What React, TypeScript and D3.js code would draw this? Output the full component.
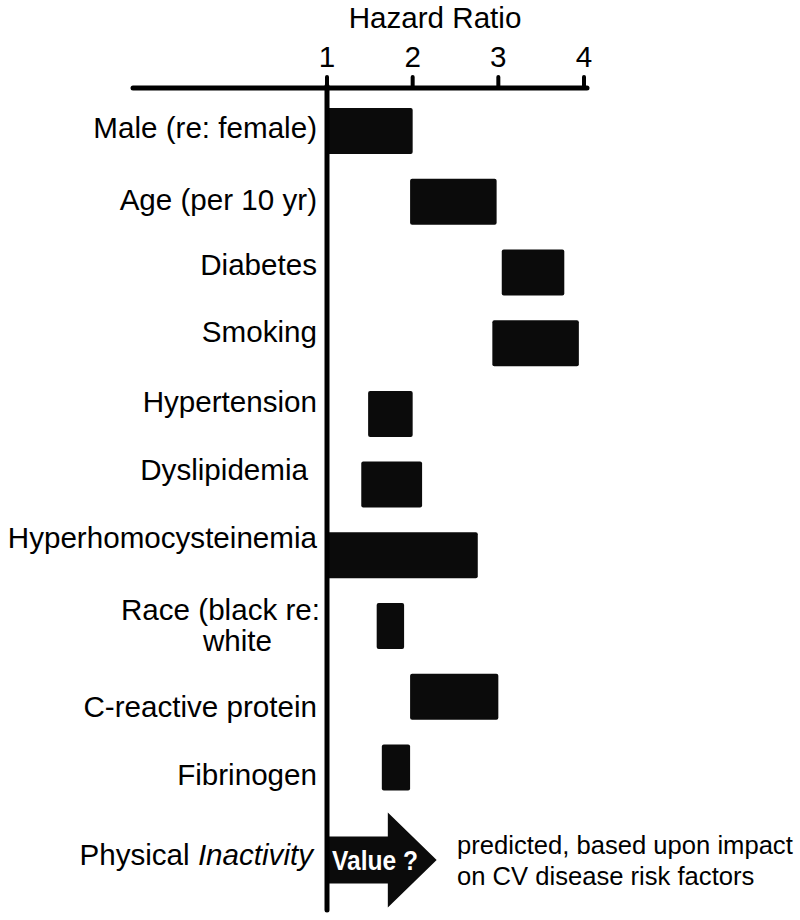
import React from 'react';
import * as d3 from 'd3';

// ---- data ----
const categories = [
  'Male (re: female)',
  'Age (per 10 yr)',
  'Diabetes',
  'Smoking',
  'Hypertension',
  'Dyslipidemia',
  'Hyperhomocysteinemia',
  'Race (black re:|white',
  'C-reactive protein',
  'Fibrinogen',
];
const lowValues = [1.0, 1.97, 3.04, 2.93, 1.48, 1.4, 1.0, 1.58, 1.97, 1.64];
const highValues = [2.0, 2.98, 3.77, 3.94, 2.0, 2.11, 2.76, 1.9, 3.0, 1.97];
const tickValues = [1, 2, 3, 4];
const axisTitle = 'Hazard Ratio';
const arrowLabelPlain = 'Physical ';
const arrowLabelItalic = 'Inactivity';
const arrowText = 'Value ?';
const arrowTip = 2.28;
const arrowHeadBase = 1.71;
const noteLines = ['predicted, based upon impact', 'on CV disease risk factors'];

// ---- layout ----
const W = 800;
const H = 920;
const FONT = "'Liberation Sans', Arial, Helvetica, sans-serif";
const FS = 29.6;
const labelShift = [7, 8, 2.5, -1.5, -2, -4.5, -7.5, -6, 20, 17.5];

export default function App() {
  const x = d3.scaleLinear().domain([1, 4]).range([327, 584]);
  const y = d3.scalePoint<string>().domain(categories).range([131, 767.5]);
  const barH = 46;
  const axisY = 88;
  const arrowY = 860;

  const arrowPath = d3.path();
  const shaftH = 23.5;
  const headH = 47.5;
  arrowPath.moveTo(x(1), arrowY - shaftH);
  arrowPath.lineTo(x(arrowHeadBase), arrowY - shaftH);
  arrowPath.lineTo(x(arrowHeadBase), arrowY - headH);
  arrowPath.lineTo(x(arrowTip), arrowY);
  arrowPath.lineTo(x(arrowHeadBase), arrowY + headH);
  arrowPath.lineTo(x(arrowHeadBase), arrowY + shaftH);
  arrowPath.lineTo(x(1), arrowY + shaftH);
  arrowPath.closePath();

  return (
    <svg
      width={W}
      height={H}
      viewBox={`0 0 ${W} ${H}`}
      style={{ position: 'absolute', left: 0, top: 0, background: '#fff' }}
      fontFamily={FONT}
    >
      <rect x={0} y={0} width={W} height={H} fill="#fff" />
      {/* axis title */}
      <text x={435} y={28} fontSize={FS} textAnchor="middle" fill="#000">
        {axisTitle}
      </text>
      {/* axis line */}
      <line x1={133} x2={x(4) + 3} y1={axisY} y2={axisY} stroke="#000" strokeWidth={5} strokeLinecap="round" />
      {tickValues.map((t) => (
        <g key={t}>
          <line x1={x(t)} x2={x(t)} y1={77} y2={axisY} stroke="#000" strokeWidth={4} strokeLinecap="round" />
          <text x={x(t)} y={67} fontSize={FS} textAnchor="middle" fill="#000">
            {t}
          </text>
        </g>
      ))}
      {/* bars */}
      {categories.map((c, i) => (
        <rect
          key={c}
          x={x(lowValues[i])}
          y={(y(c) as number) - barH / 2}
          width={x(highValues[i]) - x(lowValues[i])}
          height={barH}
          rx={2}
          fill="#0b0b0b"
        />
      ))}
      {/* arrow */}
      <path d={arrowPath.toString()} fill="#0b0b0b" />
      <text
        x={332}
        y={870}
        fontSize={28}
        fontWeight="bold"
        fill="#fff"
        textLength={86}
        lengthAdjust="spacingAndGlyphs"
      >
        {arrowText}
      </text>
      {/* vertical reference line at HR = 1 */}
      <line x1={x(1)} x2={x(1)} y1={axisY - 2} y2={910} stroke="#000" strokeWidth={5} strokeLinecap="round" />
      {/* category labels */}
      {categories.map((c, i) => {
        const lines = c.split('|');
        const cy = (y(c) as number) + labelShift[i];
        if (lines.length === 1) {
          return (
            <text key={c} x={c === 'Dyslipidemia' ? 308 : 317} y={cy} fontSize={FS} textAnchor="end" fill="#000">
              {lines[0]}
            </text>
          );
        }
        return (
          <g key={c}>
            <text x={320} y={cy} fontSize={FS} textAnchor="end" fill="#000">
              {lines[0]}
            </text>
            <text x={272} y={cy + 31} fontSize={FS} textAnchor="end" fill="#000">
              {lines[1]}
            </text>
          </g>
        );
      })}
      <text x={313} y={865} fontSize={FS} textAnchor="end" fill="#000">
        {arrowLabelPlain}
        <tspan fontStyle="italic">{arrowLabelItalic}</tspan>
      </text>
      {/* note */}
      {noteLines.map((l, i) => (
        <text key={l} x={457} y={854 + i * 31} fontSize={25.6} fill="#000">
          {l}
        </text>
      ))}
    </svg>
  );
}
